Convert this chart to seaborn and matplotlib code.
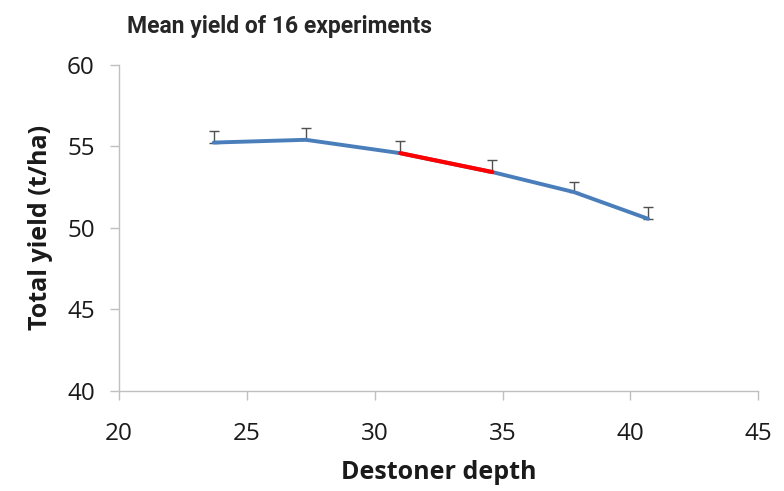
import numpy as np
import pandas as pd
import matplotlib
matplotlib.use("Agg")
import matplotlib.pyplot as plt
import seaborn as sns

# values
depth = [23.7, 27.3, 31.0, 34.6, 37.8, 40.7]
yield_mean = [55.23, 55.4, 54.58, 53.42, 52.19, 50.55]
yield_err = [0.7, 0.7, 0.75, 0.72, 0.62, 0.7]
highlight = [2, 3]  # segment drawn in red

sns.set_style("white")
plt.rcParams['font.family'] = ['Open Sans', 'DejaVu Sans']

df = pd.DataFrame({"depth": depth, "yield": yield_mean})

fig = plt.figure(figsize=(7.84, 4.91), dpi=100)
ax = fig.add_axes([0.152, 0.204, 0.815, 0.664])

ax.errorbar(depth, yield_mean, yerr=[np.zeros(len(yield_err)), yield_err],
            fmt='none', ecolor='#505050', elinewidth=1.0, capsize=3.5, capthick=1.0, zorder=1)
sns.lineplot(data=df, x="depth", y="yield", color='#4a7ebb', linewidth=2.8, ax=ax, zorder=2)
sns.lineplot(data=df.iloc[highlight], x="depth", y="yield", color='#ff0000', linewidth=3.0, ax=ax, zorder=3)

ax.set_xlim(20, 45)
ax.set_ylim(40, 60)
ax.set_xticks(range(20, 46, 5))
ax.set_yticks(range(40, 61, 5))
ax.tick_params(axis='both', which='both', direction='out', length=6.5, width=1, color='#bfbfbf',
               labelsize=17.5, labelcolor='#1a1a1a', left=True, bottom=True)
ax.tick_params(axis='y', pad=11)
ax.tick_params(axis='x', pad=16)

for side in ['top', 'right']:
    ax.spines[side].set_visible(False)
for side in ['left', 'bottom']:
    ax.spines[side].set_color('#bfbfbf')
    ax.spines[side].set_linewidth(1)

ax.set_xlabel("Destoner depth", fontsize=18, fontweight='bold', color='#1a1a1a', labelpad=10)
ax.set_ylabel("Total yield (t/ha)", fontsize=18, fontweight='bold', color='#1a1a1a', labelpad=10)

fig.text(0.162, 0.947, "Mean yield of 16 experiments", fontsize=16.5, fontweight='bold',
         family=['Liberation Sans Narrow', 'Roboto', 'DejaVu Sans'], ha='left', va='center')

fig.savefig("out.png", dpi=100)
